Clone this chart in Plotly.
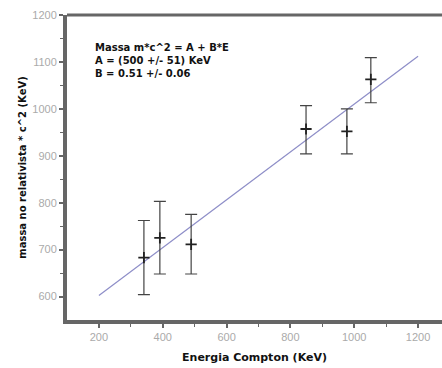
import plotly.graph_objects as go

energy = [341, 391, 489, 849, 977, 1052]
mass = [683, 725, 711, 957, 952, 1063]
err_plus = [79, 78, 64, 50, 48, 46]
err_minus = [79, 77, 63, 53, 48, 50]
fit_x = [200, 1200]
A_fit = 500
B_fit = 0.51
fit_y = [A_fit + B_fit * v for v in fit_x]

x_ticks = [200, 400, 600, 800, 1000, 1200]
y_ticks = [600, 700, 800, 900, 1000, 1100, 1200]

BOLD = "DejaVu Sans, Liberation Sans, Arial"

fig = go.Figure()
fig.add_trace(go.Scatter(x=fit_x, y=fit_y, mode="lines",
                         line=dict(color="#8e8ec8", width=1.2), showlegend=False))
fig.add_trace(go.Scatter(x=energy, y=mass, mode="markers",
                         marker=dict(symbol="cross-thin", size=8, color="#222",
                                     line=dict(color="#222", width=1.8)),
                         error_y=dict(type="data", symmetric=False, array=err_plus,
                                      arrayminus=err_minus, color="#444",
                                      thickness=1.2, width=6),
                         showlegend=False))

fig.add_shape(type="line", xref="paper", yref="paper", x0=0, x1=1, y0=1, y1=1,
              line=dict(color="#666", width=3), layer="above")

fig.add_annotation(xref="x", yref="y", x=181, y=1104, xanchor="left", yanchor="middle",
                   align="left", showarrow=False,
                   text="<b>Massa m*c^2 = A + B*E<br>A = (500 +/- 51) KeV<br>B = 0.51 +/- 0.06</b>",
                   font=dict(family=BOLD, size=10, color="#111"))

axis_common = dict(showgrid=False, zeroline=False, showline=True, mirror=False,
                   linecolor="#666", linewidth=4, ticks="outside", ticklen=4,
                   tickwidth=1.5, tickcolor="#666", automargin=False,
                   layer="above traces",
                   tickfont=dict(family="Liberation Sans, Arial", size=11, color="#aaa"))

fig.update_xaxes(range=[100, 1275], tickvals=x_ticks,
                 title=dict(text="<b>Energia Compton (KeV)</b>", standoff=12,
                            font=dict(family=BOLD, size=11, color="#111")),
                 minor=dict(tickvals=[300, 500, 700, 900, 1100], ticks="outside",
                            ticklen=3, tickwidth=1.2, tickcolor="#666", showgrid=False),
                 **axis_common)
fig.update_yaxes(range=[550, 1200], tickvals=y_ticks,
                 title=dict(text="<b>massa no relativista * c^2 (KeV)</b>", standoff=5,
                            font=dict(family=BOLD, size=10, color="#111")),
                 minor=dict(tickvals=[650, 750, 850, 950, 1050, 1150], ticks="outside",
                            ticklen=3, tickwidth=1.2, tickcolor="#666", showgrid=False),
                 **axis_common)

fig.update_layout(width=442, height=368, margin=dict(l=67, r=0, t=15, b=48),
                  plot_bgcolor="white", paper_bgcolor="white")

cover_js = (
    "document.body.style.margin='0';"
    "document.documentElement.style.overflow='hidden';"
    "document.body.style.overflow='hidden';"
    "var c=document.createElement('div');"
    "c.style.cssText='position:absolute;right:0;top:18px;width:6px;height:299px;"
    "background:#fff;z-index:1000;pointer-events:none;';"
    "document.body.appendChild(c);"
)

fig.write_html("out.html", config={"displayModeBar": False}, post_script=cover_js)
